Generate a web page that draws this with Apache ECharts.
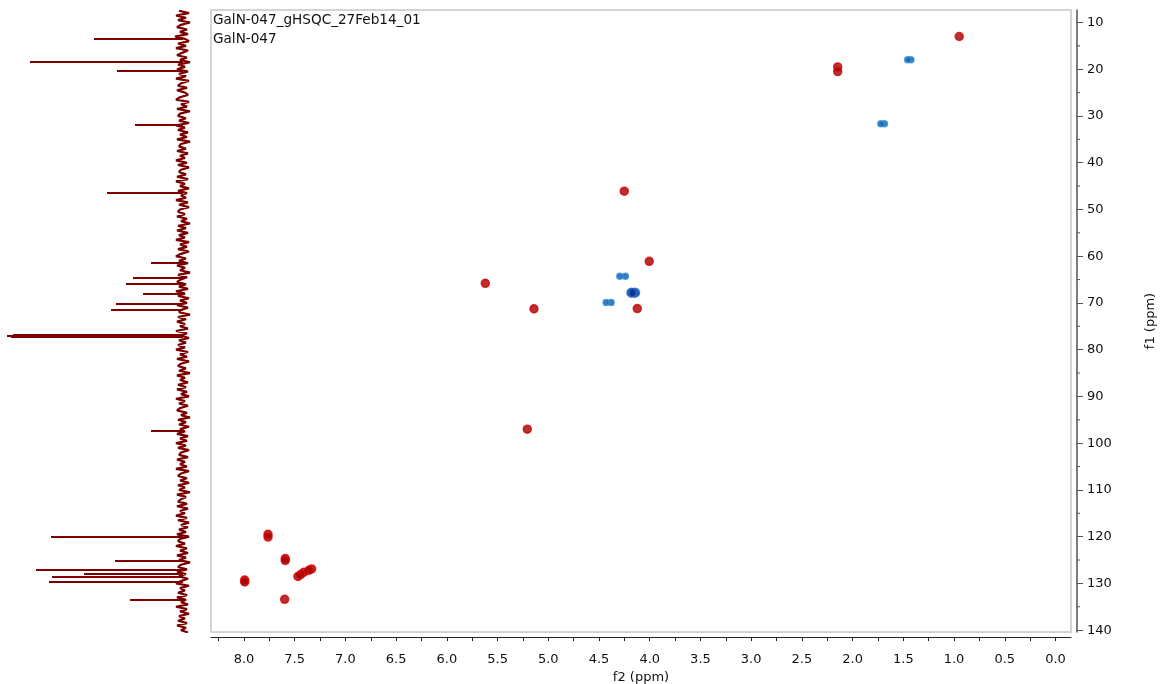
<!DOCTYPE html>
<html>
<head>
<meta charset="utf-8">
<script src="https://cdn.jsdelivr.net/npm/echarts@6/dist/echarts.min.js"></script>
<style>
html,body{margin:0;padding:0;background:#fff;}
#chart{width:1161px;height:684px;}
</style>
</head>
<body>
<div id="chart"></div>
<script>
// ---------- DATA ----------
const titleLines = ['GalN-047_gHSQC_27Feb14_01', 'GalN-047'];
const f2Range = [-0.153, 8.325];      // 1H (ppm)
const f1Range = [7.33, 140.4];        // 13C (ppm)
const f2TickLabels = [0,0.5,1,1.5,2,2.5,3,3.5,4,4.5,5,5.5,6,6.5,7,7.5,8];
const f2Ticks = [0,0.25,0.5,0.75,1,1.25,1.5,1.75,2,2.25,2.5,2.75,3,3.25,3.5,3.75,4,4.25,4.5,4.75,5,5.25,5.5,5.75,6,6.25,6.5,6.75,7,7.25,7.5,7.75,8,8.25];
const f1TickLabels = [10,20,30,40,50,60,70,80,90,100,110,120,130,140];
const f1MinorTicks = [15,25,35,45,55,65,75,85,95,105,115,125,135];

// positive (CH / CH3) cross peaks: [f2, f1]
const positivePeaks = [
  [0.949,13.0],[2.147,19.5],[2.147,20.5],[4.251,46.1],[4.005,61.1],[5.621,65.8],
  [5.141,71.25],[4.123,71.2],[5.207,97.0],
  [7.763,119.5],[7.763,120.1],[7.593,124.7],[7.593,125.1],
  [7.333,126.9],[7.36,127.2],[7.409,127.6],[7.44,128.1],[7.468,128.5],
  [7.993,129.3],[7.993,129.7],[7.599,133.4]
];
// negative (CH2) cross peaks: [f2, f1]
const negativePeaks = [
  [1.425,18.0],[1.457,18.0],[1.686,31.66],[1.722,31.66],
  [4.24,64.3],[4.295,64.3],[4.38,69.9],[4.43,69.9]
];
const negativeStrongPeaks = [[4.145,67.8],[4.18,67.8]];

// 13C projection: peak positions (ppm) and heights
const projPeakPpm    = [13.4,18.4,20.3,31.9,46.4,61.5,64.6,66.0,68.0,70.1,71.5,76.7,77.0,77.3,97.4,120.0,125.1,127.1,127.9,128.5,129.7,133.6];
const projPeakHeight = [89,153,66,48,76,32,50,57,40,67,72,170,176,172,32,132,68,147,99,131,134,53];
// 13C projection: baseline noise, every 0.5 ppm from 7.5 ppm
const projNoiseStart = 7.5, projNoiseStep = 0.5;
const projNoise = [
  4,-6,7,-3,5,-7,2,6,-4,3,-5,8,-2,-6,5,-3,7,-5,1,6,
  -4,3,-7,5,-2,6,-5,4,-3,7,-6,2,5,-4,6,-2,-5,3,7,-6,
  2,-4,6,-7,3,5,-3,4,-6,7,-2,5,-5,3,-4,6,-7,2,4,-3,
  6,-5,3,-2,7,-4,5,-6,2,4,-3,6,-5,7,-2,3,-6,5,-4,2,
  -3,7,-5,4,-6,3,5,-2,6,-4,2,-7,5,-3,6,-5,4,-2,7,-6,
  3,-4,5,-6,2,7,-3,4,-5,6,-2,3,-7,5,-4,2,6,-3,4,-5,
  7,-2,5,-6,3,-4,6,-5,2,4,-7,5,-3,6,-2,3,-5,7,-4,2,
  -6,4,-3,5,-2,7,-5,3,-4,6,-6,2,5,-3,4,-7,6,-2,3,-5,
  5,-3,6,-4,2,-6,7,-2,4,-5,3,6,-4,2,-7,5,-3,4,-6,3,
  -2,6,-5,3,-4,7,-3,5,-6,2,4,-5,6,-2,3,-4,7,-6,2,5,
  -4,3,-6,5,-2,4,-7,6,-3,2,5,-4,6,-5,3,-2,7,-4,5,-6,
  2,-5,4,-3,6,-6,3,5,-2,7,-4,3,-5,6,-3,4,-7,2,5,-4,
  6,-3,4,-5,2,7,-6,3,-2,5,-4,6,-3,2,-5,7,-4,3,-6,4,
  -2,5,-4,6,-3,2,-5
];

// ---------- BUILD ----------
const FONT = 'DejaVu Sans';
const noiseData = projNoise.map((v, i) => [v, projNoiseStart + i * projNoiseStep]);
const peakLines = projPeakPpm.map((p, i) => ({ coords: [[0, p], [projPeakHeight[i], p]] }));
const minorTickData = f1MinorTicks.map(v => [f2Range[0], v]);
const gridBase = { outerBoundsMode: 'none', containLabel: false };

const chart = echarts.init(document.getElementById('chart'), null, { renderer: 'canvas' });
chart.setOption({
  animation: false,
  backgroundColor: '#fff',
  textStyle: { fontFamily: FONT },
  graphic: [
    { type: 'text', left: 213, top: 13, style: { text: titleLines[0], font: '13.6px "DejaVu Sans"', fill: '#111' } },
    { type: 'text', left: 213, top: 32, style: { text: titleLines[1], font: '13.6px "DejaVu Sans"', fill: '#111' } }
  ],
  grid: [
    Object.assign({ left: 211, top: 10, width: 860, height: 622, show: true, borderColor: '#d4d4d4', borderWidth: 2, backgroundColor: 'transparent' }, gridBase),
    Object.assign({ left: 0, top: 10, width: 192, height: 622, show: false }, gridBase)
  ],
  xAxis: [
    {
      type: 'value', gridIndex: 0, min: f2Range[0], max: f2Range[1], inverse: true,
      position: 'bottom', offset: 5,
      axisLine: { show: true, onZero: false, lineStyle: { color: '#222', width: 1 } },
      axisTick: { show: true, customValues: f2Ticks, length: 4, lineStyle: { color: '#222' } },
      axisLabel: { customValues: f2TickLabels, formatter: v => v.toFixed(1), color: '#111', fontSize: 13, fontFamily: FONT, margin: 16 },
      splitLine: { show: false },
      name: 'f2 (ppm)', nameLocation: 'middle', nameGap: 33,
      nameTextStyle: { color: '#111', fontSize: 13, fontFamily: FONT }
    },
    { type: 'value', gridIndex: 1, min: -9, max: 183, inverse: true, show: false }
  ],
  yAxis: [
    {
      type: 'value', gridIndex: 0, min: f1Range[0], max: f1Range[1], inverse: true,
      position: 'right', offset: 6,
      axisLine: { show: true, onZero: false, lineStyle: { color: '#555', width: 1.5 } },
      axisTick: { show: true, customValues: f1TickLabels, length: 6, lineStyle: { color: '#555' } },
      axisLabel: { customValues: f1TickLabels, color: '#111', fontSize: 13, fontFamily: FONT, margin: 10 },
      splitLine: { show: false },
      name: 'f1 (ppm)', nameLocation: 'middle', nameGap: 67, nameRotate: 90,
      nameTextStyle: { color: '#111', fontSize: 13, fontFamily: FONT }
    },
    { type: 'value', gridIndex: 1, min: f1Range[0], max: f1Range[1], inverse: true, show: false }
  ],
  series: [
    {
      type: 'line', xAxisIndex: 1, yAxisIndex: 1, data: noiseData, showSymbol: false, silent: true,
      lineStyle: { color: '#7a0000', width: 2.2 }
    },
    {
      type: 'lines', coordinateSystem: 'cartesian2d', xAxisIndex: 1, yAxisIndex: 1, data: peakLines, silent: true,
      lineStyle: { color: '#800000', width: 2, opacity: 1 }
    },
    {
      // minor ticks of the f1 axis (every 5 ppm), drawn next to the offset axis line
      type: 'custom', xAxisIndex: 0, yAxisIndex: 0, data: minorTickData, clip: false, silent: true,
      renderItem: (params, api) => {
        const y = api.coord([api.value(0), api.value(1)])[1];
        const x = params.coordSys.x + params.coordSys.width + 6;
        return { type: 'line', shape: { x1: x, y1: y, x2: x + 3, y2: y }, style: { stroke: '#555', lineWidth: 1 } };
      }
    },
    {
      type: 'scatter', xAxisIndex: 0, yAxisIndex: 0, data: positivePeaks, symbol: 'circle', symbolSize: 8,
      itemStyle: { color: '#a00000', borderColor: '#e00000', borderWidth: 1.5 }
    },
    {
      type: 'scatter', xAxisIndex: 0, yAxisIndex: 0, data: negativePeaks, symbol: 'circle', symbolSize: 6,
      itemStyle: { color: '#0a58a8', borderColor: '#2f8fd8', borderWidth: 1.5 }
    },
    {
      type: 'scatter', xAxisIndex: 0, yAxisIndex: 0, data: negativeStrongPeaks, symbol: 'circle', symbolSize: 9,
      itemStyle: { color: '#002d90', borderColor: '#1a6ccc', borderWidth: 1.5 }
    }
  ]
});
</script>
</body>
</html>
